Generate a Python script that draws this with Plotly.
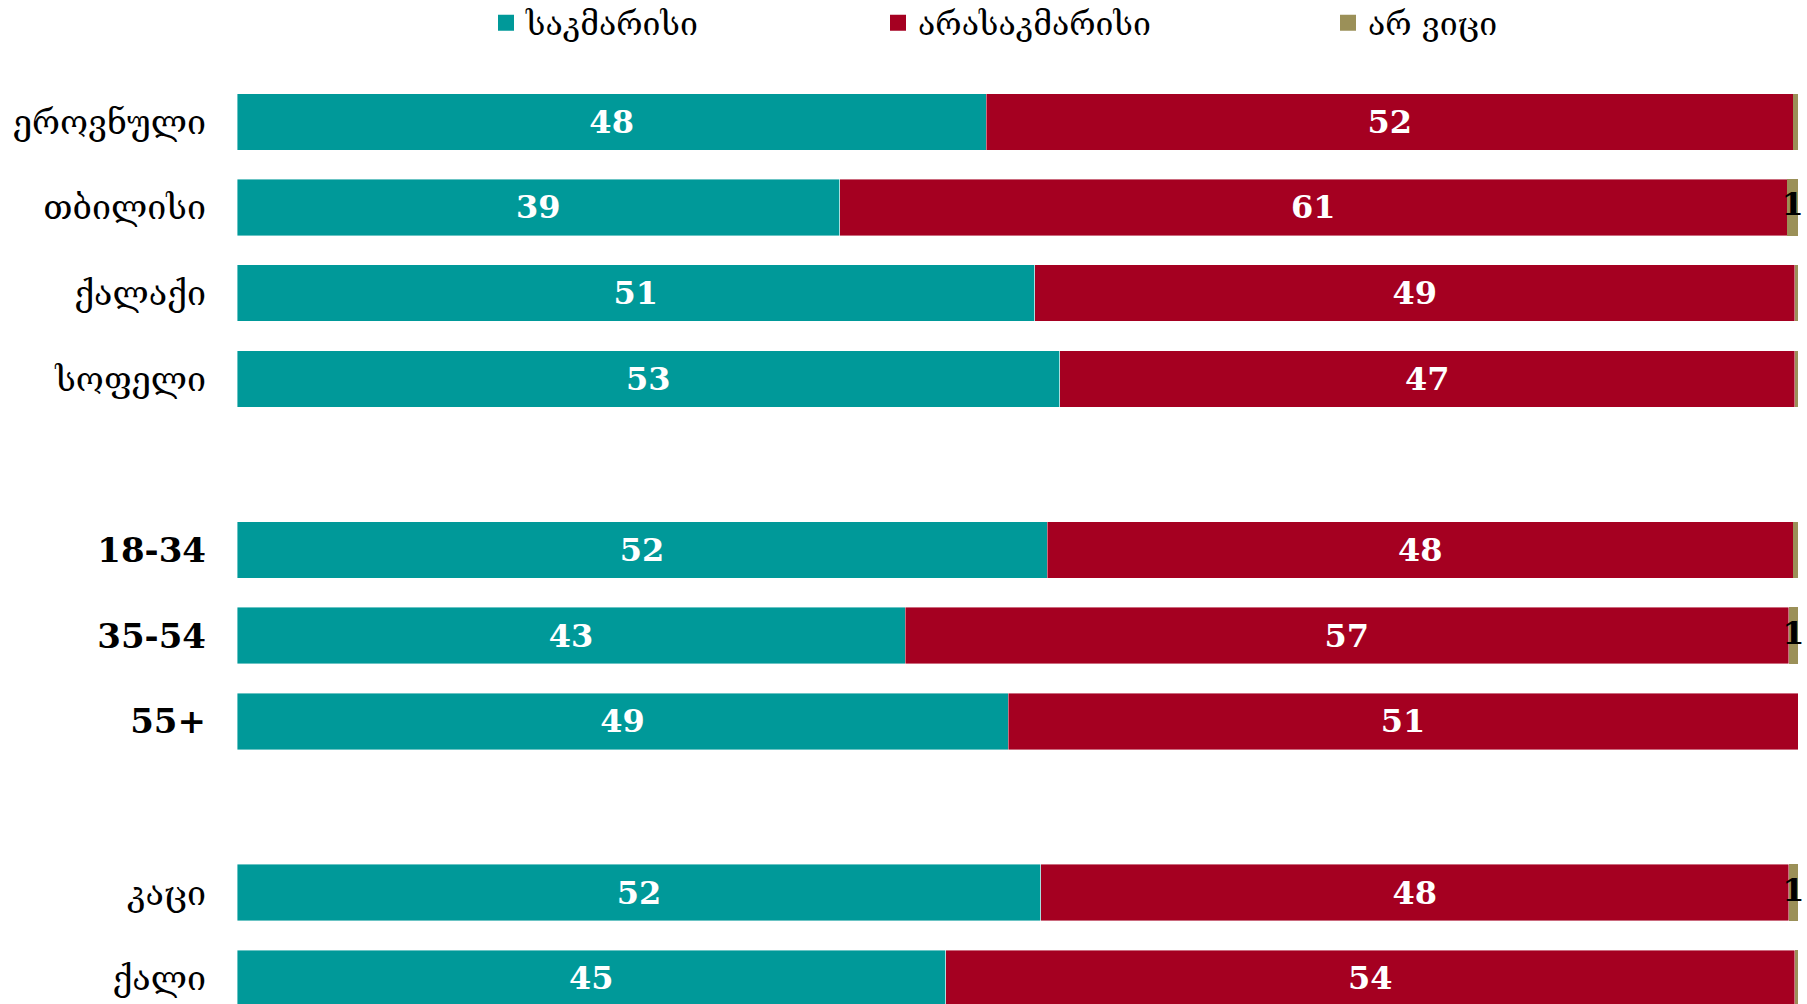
import plotly.graph_objects as go

categories = ["ეროვნული", "თბილისი", "ქალაქი", "სოფელი", " ",
              "18-34", "35-54", "55+", "  ",
              "კაცი", "ქალი"]
series_names = ["საკმარისი", "არასაკმარისი", "არ ვიცი"]
sufficient = [48.0, 38.6, 51.1, 52.7, None, 51.9, 42.8, 49.4, None, 51.5, 45.4]
insufficient = [51.7, 60.7, 48.7, 47.1, None, 47.8, 56.6, 50.6, None, 47.9, 54.4]
dont_know = [0.3, 0.7, 0.2, 0.2, None, 0.3, 0.6, 0.0, None, 0.6, 0.2]
colors = ["#009999", "#A50021", "#9B9058"]

SERIF = "DejaVu Serif"


def rnd(v):
    return "" if v is None else str(int(v + 0.5))


fig = go.Figure()
for name, vals, col in [(series_names[0], sufficient, colors[0]),
                        (series_names[1], insufficient, colors[1])]:
    fig.add_trace(go.Bar(
        y=categories, x=vals, orientation="h", name=name,
        marker=dict(color=col, line=dict(width=0.6, color="rgba(255,255,255,0.7)")),
        text=[rnd(v) for v in vals], textposition="inside",
        insidetextanchor="middle", constraintext="none",
        textfont=dict(family=SERIF, size=32, color="white", weight="bold"),
        showlegend=False, hoverinfo="skip",
    ))

fig.add_trace(go.Bar(
    y=categories, x=dont_know, orientation="h", name=series_names[2],
    marker=dict(color=colors[2], line=dict(width=0)),
    showlegend=False, hoverinfo="skip",
))

# small-value labels for "don't know" (only shown when they round to >= 1)
lab_x, lab_y, lab_t = [], [], []
for cat, a, b, c in zip(categories, sufficient, insufficient, dont_know):
    if c is not None and c >= 0.5:
        lab_x.append(a + b + c / 2)
        lab_y.append(cat)
        lab_t.append(rnd(c))
fig.add_trace(go.Scatter(
    x=lab_x, y=lab_y, mode="text", text=lab_t, cliponaxis=False,
    textposition="middle center",
    textfont=dict(family=SERIF, size=32, color="black", weight="bold"),
    showlegend=False, hoverinfo="skip",
))

# legends (one per series, positioned like the reference)
legend_lefts = [486, 878, 1328]
for i, (name, col) in enumerate(zip(series_names, colors)):
    lg = "legend" if i == 0 else f"legend{i+1}"
    fig.add_trace(go.Scatter(
        x=[None], y=[None], mode="markers", name=name,
        marker=dict(symbol="square", size=17, color=col),
        legend=lg, showlegend=True, hoverinfo="skip",
    ))

legend_common = dict(orientation="h", xref="container", yref="container",
                     xanchor="left", yanchor="middle", y=1 - 23 / 1004,
                     bgcolor="rgba(0,0,0,0)", borderwidth=0,
                     font=dict(family=SERIF, size=32, color="black"))
fig.update_layout(
    legend=dict(x=legend_lefts[0] / 1807, **legend_common),
    legend2=dict(x=legend_lefts[1] / 1807, **legend_common),
    legend3=dict(x=legend_lefts[2] / 1807, **legend_common),
)

ticktext = [f"<b>{c}</b>" if c.strip() and c.strip()[0].isdigit() else c for c in categories]

fig.update_layout(
    barmode="stack",
    bargap=0.34,
    width=1807, height=1004,
    margin=dict(l=237, r=9, t=79, b=0, pad=0, autoexpand=False),
    plot_bgcolor="white", paper_bgcolor="white",
    xaxis=dict(range=[0, 100], visible=False, fixedrange=True),
    yaxis=dict(type="category", categoryorder="array", categoryarray=categories,
               tickmode="array", tickvals=categories, ticktext=ticktext,
               range=[10.3, -0.5], showgrid=False, zeroline=False, showline=False,
               ticks="", ticklabelstandoff=30, automargin=False,
               tickfont=dict(family=SERIF, size=34, color="black")),
)

fig.write_html(
    "out.html",
    config={"displayModeBar": False},
    post_script="document.body.style.margin='0';document.body.style.overflow='hidden';",
)
